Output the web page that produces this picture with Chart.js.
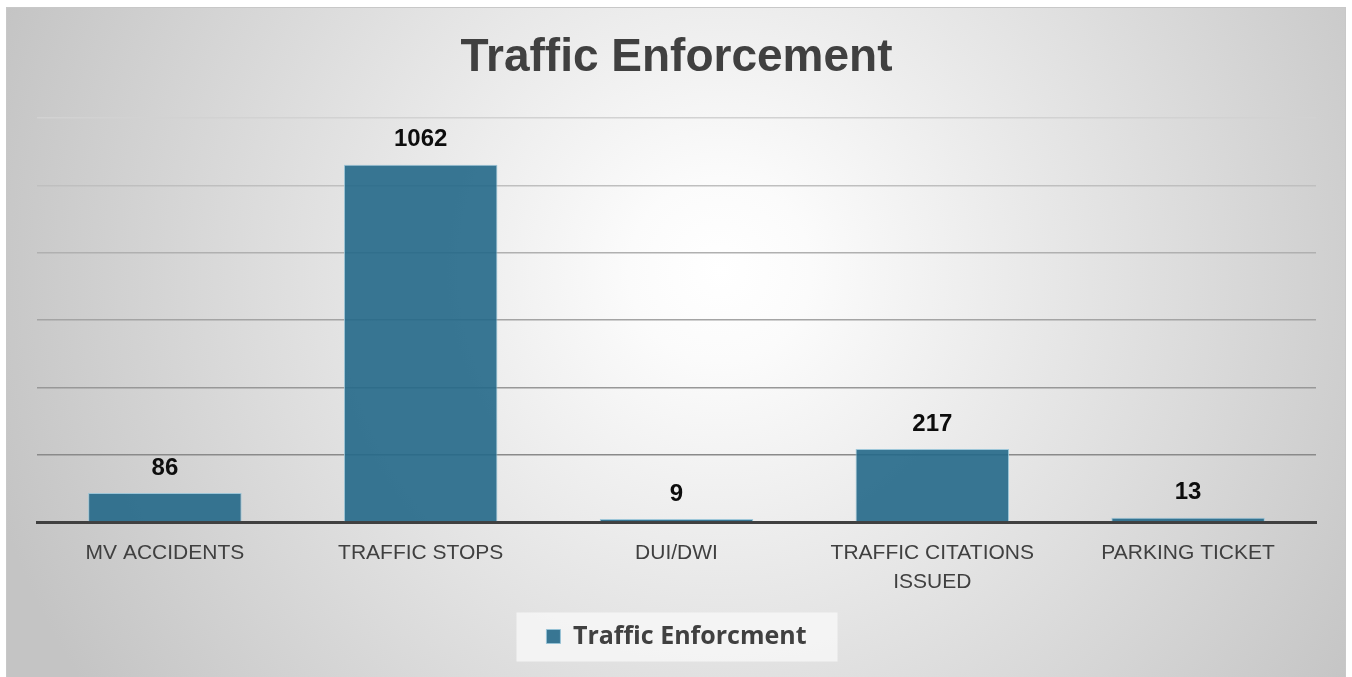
<!DOCTYPE html>
<html>
<head>
<meta charset="utf-8">
<script src="https://cdn.jsdelivr.net/npm/chart.js@4.4.1/dist/chart.umd.min.js"></script>
<style>
  html, body { margin: 0; padding: 0; background: #ffffff; }
  #wrap { width: 1352px; height: 677px; position: relative; }
</style>
</head>
<body>
<div id="wrap"><canvas id="c" width="1352" height="677"></canvas></div>
<script>
const categories = ["MV ACCIDENTS", "TRAFFIC STOPS", "DUI/DWI", ["TRAFFIC CITATIONS", "ISSUED"], "PARKING TICKET"];
const seriesName = "Traffic Enforcment";
const values = [86, 1062, 9, 217, 13];
const yMax = 1200;
const yStep = 200;

const frameBg = {
  id: 'frameBg',
  beforeDraw(chart) {
    const ctx = chart.ctx;
    ctx.save();
    ctx.fillStyle = '#ffffff';
    ctx.fillRect(0, 0, chart.width, chart.height);
    const g = ctx.createRadialGradient(720, 270, 0, 720, 270, 760);
    g.addColorStop(0, '#ffffff');
    g.addColorStop(0.12, '#fbfbfb');
    g.addColorStop(1, '#c4c4c4');
    ctx.fillStyle = g;
    ctx.fillRect(6, 7, 1340, 670);
    ctx.strokeStyle = '#c8c8c8';
    ctx.lineWidth = 1;
    ctx.strokeRect(6.5, 7.5, 1339, 670);
    // legend backdrop
    const lg = chart.legend;
    if (lg && lg.legendHitBoxes && lg.legendHitBoxes.length) {
      const hb = lg.legendHitBoxes[0];
      const cx = hb.left + hb.width / 2;
      const cy = hb.top + hb.height / 2;
      ctx.fillStyle = 'rgba(245,245,245,0.9)';
      ctx.fillRect(cx - 160, cy - 24, 321, 49);
    }
    ctx.restore();
  }
};

const valueLabels = {
  id: 'valueLabels',
  afterDatasetsDraw(chart) {
    const ctx = chart.ctx;
    const meta = chart.getDatasetMeta(0);
    ctx.save();
    ctx.font = 'bold 24px "Liberation Sans", Arial, sans-serif';
    ctx.fillStyle = '#0d0d0d';
    ctx.textAlign = 'center';
    ctx.textBaseline = 'middle';
    meta.data.forEach((bar, i) => {
      ctx.fillText(String(values[i]), bar.x, bar.y - 25);
    });
    ctx.restore();
  }
};

const gridColors = {0: 'rgba(0,0,0,0)', 200: '#8a8a8a', 400: '#989898', 600: '#a4a4a4', 800: '#b0b0b0', 1000: '#bfbfbf', 1200: '#d2d2d2'};

new Chart(document.getElementById('c'), {
  type: 'bar',
  data: {
    labels: categories,
    datasets: [{
      label: seriesName,
      data: values,
      backgroundColor: 'rgba(36,104,136,0.9)',
      borderColor: 'rgba(150,195,215,0.9)',
      borderWidth: 1,
      categoryPercentage: 1.0,
      barPercentage: 0.6
    }]
  },
  options: {
    responsive: false,
    animation: false,
    devicePixelRatio: 1,
    layout: { padding: { left: 37, right: 36, top: 10, bottom: 18 } },
    plugins: {
      title: {
        display: true,
        text: 'Traffic Enforcement',
        color: '#404040',
        font: { family: '"Liberation Sans", Arial, sans-serif', size: 46, weight: 'bold', lineHeight: 1.2 },
        padding: { top: 21, bottom: 32 }
      },
      legend: {
        display: true,
        position: 'bottom',
        labels: {
          color: '#404040',
          font: { family: '"Open Sans", Inter, "Liberation Sans", Arial, sans-serif', size: 25, weight: 'bold' },
          boxWidth: 14,
          boxHeight: 14,
          padding: 10,
          useBorderRadius: false
        }
      },
      tooltip: { enabled: false }
    },
    scales: {
      x: {
        grid: { display: false, drawTicks: false },
        border: { display: true, color: '#404040', width: 3 },
        ticks: {
          color: '#404040',
          padding: 17,
          maxRotation: 0,
          autoSkip: false,
          font: { family: '"Liberation Sans", Arial, sans-serif', size: 21, lineHeight: 1.38 }
        }
      },
      y: {
        min: 0,
        max: yMax,
        ticks: { display: false, stepSize: yStep },
        border: { display: false },
        grid: {
          drawTicks: false,
          lineWidth: 1.5,
          color: (c) => gridColors[c.tick ? c.tick.value : 0] || '#a0a0a0'
        }
      }
    }
  },
  plugins: [frameBg, valueLabels]
});
</script>
</body>
</html>
